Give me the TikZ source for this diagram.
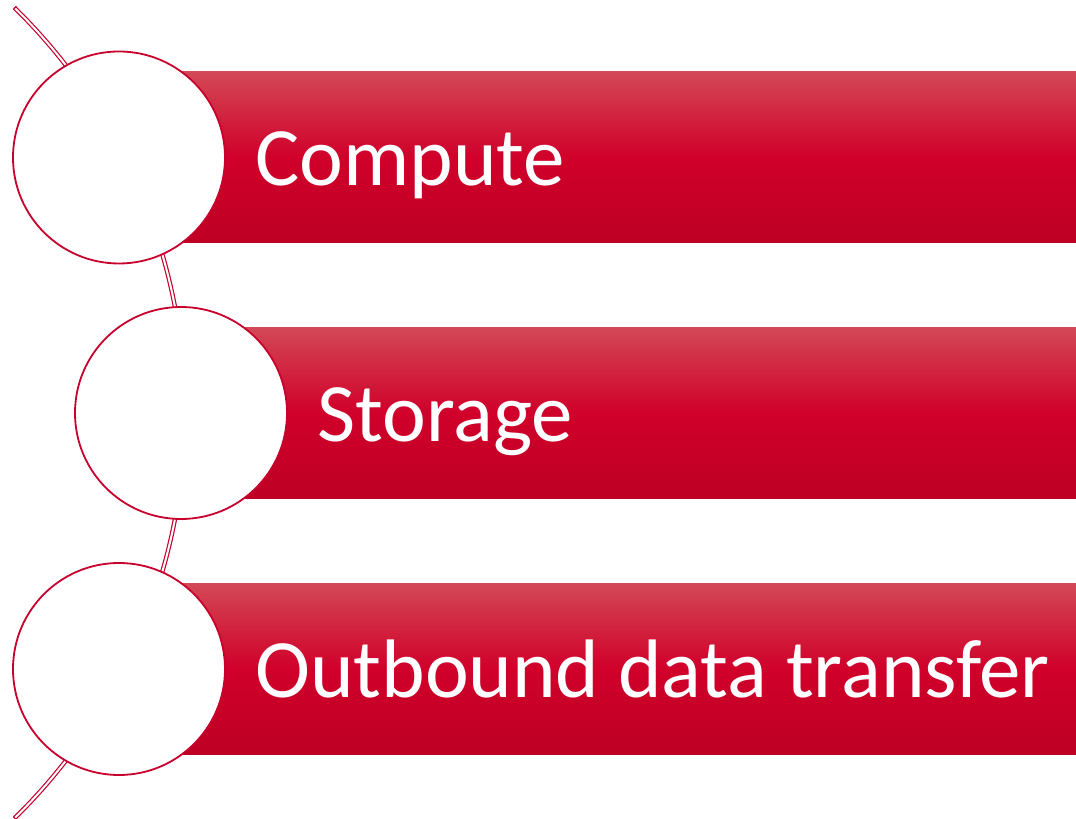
\documentclass[tikz,border=0pt]{standalone}
\usepackage{fontspec}
\setmainfont{Carlito}
\definecolor{ringred}{RGB}{200,0,45}
\definecolor{bartop}{RGB}{211,72,86}
\definecolor{barmid}{RGB}{208,0,42}
\definecolor{barbot}{RGB}{190,0,36}
\begin{document}
\begin{tikzpicture}[x=1pt,y=1pt,
  circ/.style={circle,draw=ringred,line width=1.8pt,fill=white,minimum size=212pt,inner sep=0pt},
  bar/.style={rectangle,anchor=west,minimum width=957pt,minimum height=171pt,inner sep=0pt,
    top color=bartop,bottom color=barbot,middle color=barmid,draw=none},
  lbl/.style={anchor=base west,text=white,inner sep=0pt,font=\fontsize{83}{99}\selectfont}]
\useasboundingbox (0,0) rectangle (1076,819);
% backbone arc
\draw[ringred,line width=1.2pt,double=white,double distance=2pt]
  (-382,406) ++(-45.6:567) arc[start angle=-45.6,end angle=45.6,radius=567];
\draw[ringred,line width=1.2pt] (-382,406) ++(45.6:565) -- ++(45.6:4.4);
\draw[ringred,line width=1.2pt] (-382,406) ++(-45.6:565) -- ++(-45.6:4.4);
% bars
\node[bar] (b1) at (119,661.5) {};
\node[bar] (b2) at (181,406) {};
\node[bar] (b3) at (119,150) {};
% circles
\node[circ] (c1) at (119,661.5) {};
\node[circ] (c2) at (181,406) {};
\node[circ] (c3) at (119,150) {};
% labels
\node[lbl] (t1) at (255,633) {Compute};
\node[lbl] (t2) at (317,377) {Storage};
\node[lbl] (t3) at (255,121) {Outbound data transfer};
\end{tikzpicture}
\end{document}
